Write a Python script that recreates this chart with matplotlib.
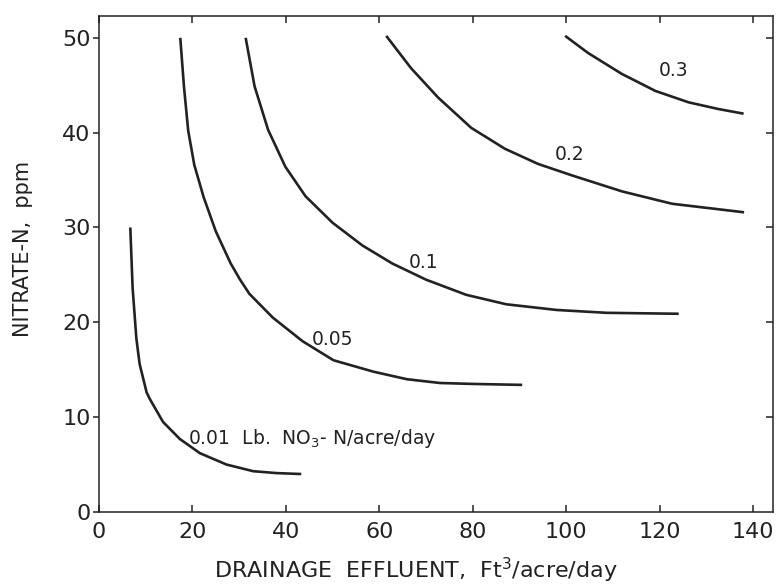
import matplotlib.pyplot as plt

plt.rcParams['font.family'] = ['DejaVu Sans']
plt.rcParams['mathtext.fontset'] = 'dejavusans'

# curves: drainage effluent (ft3/acre/day) vs nitrate-N (ppm)
x_001 = [6.7, 7.2, 8.0, 8.7, 9.1, 10.2, 10.9, 13.7, 17.3, 21.6, 27.3, 33.0, 38.0, 43.3]
y_001 = [30.0, 23.6, 18.3, 15.6, 14.8, 12.6, 11.9, 9.5, 7.7, 6.2, 5.0, 4.3, 4.1, 4.0]

x_005 = [17.4, 18.2, 19.1, 20.4, 22.4, 25.0, 28.2, 30.2, 32.2, 37.2, 43.6, 50.2,
         58.7, 65.9, 73.0, 80.2, 90.6]
y_005 = [50.0, 44.8, 40.2, 36.6, 33.2, 29.6, 26.2, 24.5, 23.0, 20.5, 18.0, 16.0,
         14.8, 14.0, 13.6, 13.5, 13.4]

x_01 = [31.4, 33.3, 36.2, 39.9, 44.2, 50.0, 56.4, 62.8, 70.0, 78.6, 87.2,
        98.0, 108.7, 124.1]
y_01 = [50.0, 44.9, 40.3, 36.4, 33.3, 30.5, 28.1, 26.2, 24.5, 22.9, 21.9,
        21.3, 21.0, 20.9]

x_02 = [61.5, 66.8, 72.6, 79.7, 86.9, 94.0, 101.2, 112.0, 122.7, 138.1]
y_02 = [50.2, 46.8, 43.7, 40.5, 38.3, 36.7, 35.5, 33.8, 32.5, 31.6]

x_03 = [99.8, 104.7, 111.9, 119.1, 126.2, 132.5, 138.0]
y_03 = [50.2, 48.4, 46.2, 44.4, 43.2, 42.5, 42.0]

labels = ['0.01  Lb.  NO$_3$- N/acre/day', '0.05', '0.1', '0.2', '0.3']
label_x = [19.1, 49.9, 69.4, 100.8, 122.9]
label_y = [7.8, 18.2, 26.3, 37.7, 46.6]
label_ha = ['left', 'center', 'center', 'center', 'center']

ink = '#222222'

fig = plt.figure(figsize=(7.77, 5.88), dpi=100)
ax = fig.add_axes([0.1274, 0.1293, 0.8675, 0.8435])

for xs, ys in [(x_001, y_001), (x_005, y_005), (x_01, y_01), (x_02, y_02), (x_03, y_03)]:
    ax.plot(xs, ys, color=ink, lw=1.9, solid_capstyle='butt', solid_joinstyle='round')

for t, lx, ly, ha in zip(labels, label_x, label_y, label_ha):
    ax.text(lx, ly, t, color=ink, fontsize=13.5, ha=ha, va='center')

ax.set_xlim(0, 144.3)
ax.set_ylim(0, 52.3)
ax.set_xticks(range(0, 141, 20))
ax.set_yticks(range(0, 51, 10))

for s in ax.spines.values():
    s.set_color(ink)
    s.set_linewidth(1.1)

ax.tick_params(axis='x', direction='in', top=True, length=5, width=1.1, color=ink,
               labelsize=16, labelcolor=ink, pad=7)
ax.tick_params(axis='y', direction='out', length=4, width=1.1, color=ink,
               labelsize=16, labelcolor=ink, pad=2)

# inward ticks on the right spine
ax2 = ax.twinx()
ax2.set_ylim(ax.get_ylim())
ax2.set_yticks(range(10, 51, 10))
ax2.set_yticklabels([])
ax2.tick_params(axis='y', direction='in', length=5, width=1.1, color=ink)
for s in ax2.spines.values():
    s.set_visible(False)

ax.set_xlabel('DRAINAGE  EFFLUENT,  Ft$^3$/acre/day', fontsize=16, color=ink)
ax.xaxis.label.set_va('center')
ax.xaxis.set_label_coords(0.470, -0.118)
ax.set_ylabel('NITRATE-N,  ppm', fontsize=15, color=ink)
ax.yaxis.label.set_va('center')
ax.yaxis.set_label_coords(-0.112, 0.53)

fig.savefig('out.png', dpi=100, facecolor='white')
